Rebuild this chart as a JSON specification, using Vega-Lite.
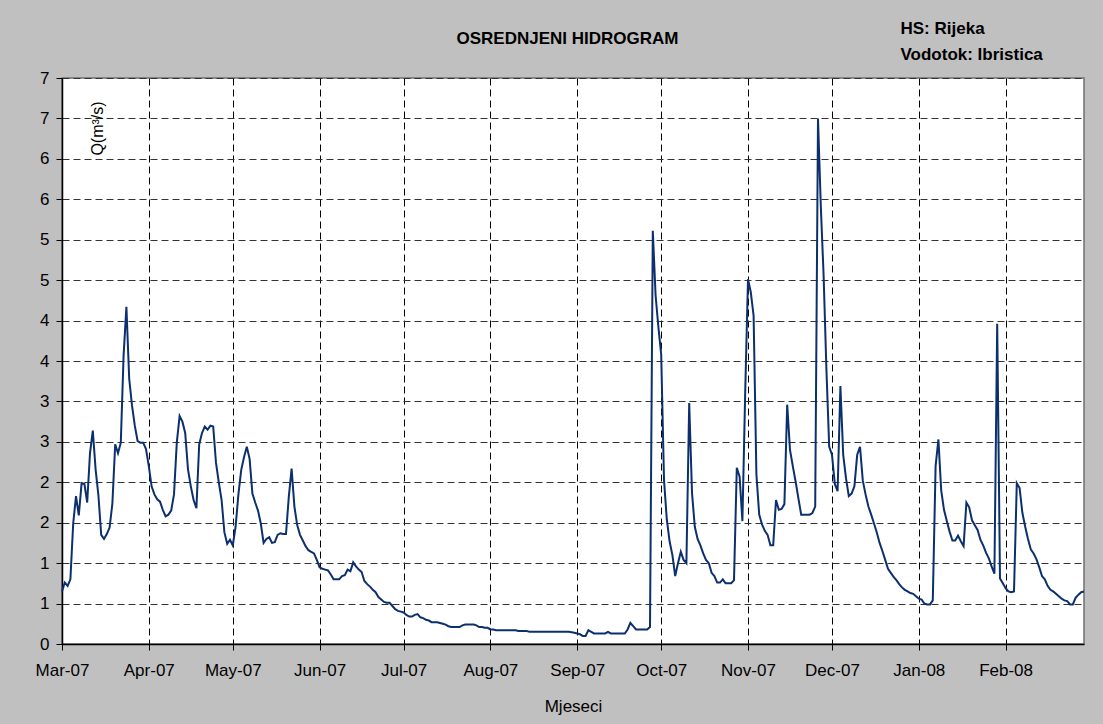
{
"$schema": "https://vega.github.io/schema/vega-lite/v6.json",
"width": 1022, "height": 566,
"autosize": {"type": "none"},
"padding": {"left": 62, "top": 78, "right": 19, "bottom": 80},
"background": "#c0c0c0",
"config": {"view": {"fill": "white", "stroke": "#707070", "strokeWidth": 1.5}, "font": "Liberation Sans"},
"data": {"values": [
{"date":"2007-03-01","q":0.65},{"date":"2007-03-02","q":0.76},{"date":"2007-03-03","q":0.72},{"date":"2007-03-04","q":0.80},{"date":"2007-03-05","q":1.49},{"date":"2007-03-06","q":1.83},{"date":"2007-03-07","q":1.59},{"date":"2007-03-08","q":1.99},{"date":"2007-03-09","q":1.98},{"date":"2007-03-10","q":1.75},{"date":"2007-03-11","q":2.36},{"date":"2007-03-12","q":2.64},{"date":"2007-03-13","q":2.16},{"date":"2007-03-14","q":1.84},{"date":"2007-03-15","q":1.35},{"date":"2007-03-16","q":1.30},{"date":"2007-03-17","q":1.36},{"date":"2007-03-18","q":1.44},{"date":"2007-03-19","q":1.74},{"date":"2007-03-20","q":2.47},{"date":"2007-03-21","q":2.36},{"date":"2007-03-22","q":2.49},{"date":"2007-03-23","q":3.57},{"date":"2007-03-24","q":4.17},{"date":"2007-03-25","q":3.28},{"date":"2007-03-26","q":2.95},{"date":"2007-03-27","q":2.70},{"date":"2007-03-28","q":2.51},{"date":"2007-03-29","q":2.49},{"date":"2007-03-30","q":2.49},{"date":"2007-03-31","q":2.41},
{"date":"2007-04-01","q":2.20},{"date":"2007-04-02","q":1.95},{"date":"2007-04-03","q":1.85},{"date":"2007-04-04","q":1.79},{"date":"2007-04-05","q":1.76},{"date":"2007-04-06","q":1.66},{"date":"2007-04-07","q":1.58},{"date":"2007-04-08","q":1.60},{"date":"2007-04-09","q":1.65},{"date":"2007-04-10","q":1.85},{"date":"2007-04-11","q":2.49},{"date":"2007-04-12","q":2.82},{"date":"2007-04-13","q":2.75},{"date":"2007-04-14","q":2.61},{"date":"2007-04-15","q":2.16},{"date":"2007-04-16","q":1.95},{"date":"2007-04-17","q":1.78},{"date":"2007-04-18","q":1.68},{"date":"2007-04-19","q":2.47},{"date":"2007-04-20","q":2.61},{"date":"2007-04-21","q":2.69},{"date":"2007-04-22","q":2.65},{"date":"2007-04-23","q":2.70},{"date":"2007-04-24","q":2.69},{"date":"2007-04-25","q":2.24},{"date":"2007-04-26","q":2.00},{"date":"2007-04-27","q":1.78},{"date":"2007-04-28","q":1.38},{"date":"2007-04-29","q":1.24},{"date":"2007-04-30","q":1.29},
{"date":"2007-05-01","q":1.22},{"date":"2007-05-02","q":1.45},{"date":"2007-05-03","q":1.85},{"date":"2007-05-04","q":2.15},{"date":"2007-05-05","q":2.31},{"date":"2007-05-06","q":2.44},{"date":"2007-05-07","q":2.29},{"date":"2007-05-08","q":1.86},{"date":"2007-05-09","q":1.75},{"date":"2007-05-10","q":1.65},{"date":"2007-05-11","q":1.49},{"date":"2007-05-12","q":1.25},{"date":"2007-05-13","q":1.30},{"date":"2007-05-14","q":1.32},{"date":"2007-05-15","q":1.25},{"date":"2007-05-16","q":1.26},{"date":"2007-05-17","q":1.35},{"date":"2007-05-18","q":1.37},{"date":"2007-05-19","q":1.36},{"date":"2007-05-20","q":1.36},{"date":"2007-05-21","q":1.82},{"date":"2007-05-22","q":2.17},{"date":"2007-05-23","q":1.70},{"date":"2007-05-24","q":1.47},{"date":"2007-05-25","q":1.35},{"date":"2007-05-26","q":1.28},{"date":"2007-05-27","q":1.21},{"date":"2007-05-28","q":1.16},{"date":"2007-05-29","q":1.14},{"date":"2007-05-30","q":1.12},{"date":"2007-05-31","q":1.04},
{"date":"2007-06-01","q":0.95},{"date":"2007-06-02","q":0.93},{"date":"2007-06-03","q":0.92},{"date":"2007-06-04","q":0.91},{"date":"2007-06-05","q":0.86},{"date":"2007-06-06","q":0.80},{"date":"2007-06-07","q":0.80},{"date":"2007-06-08","q":0.80},{"date":"2007-06-09","q":0.84},{"date":"2007-06-10","q":0.85},{"date":"2007-06-11","q":0.92},{"date":"2007-06-12","q":0.90},{"date":"2007-06-13","q":1.01},{"date":"2007-06-14","q":0.96},{"date":"2007-06-15","q":0.92},{"date":"2007-06-16","q":0.89},{"date":"2007-06-17","q":0.78},{"date":"2007-06-18","q":0.74},{"date":"2007-06-19","q":0.71},{"date":"2007-06-20","q":0.67},{"date":"2007-06-21","q":0.64},{"date":"2007-06-22","q":0.58},{"date":"2007-06-23","q":0.55},{"date":"2007-06-24","q":0.52},{"date":"2007-06-25","q":0.51},{"date":"2007-06-26","q":0.51},{"date":"2007-06-27","q":0.47},{"date":"2007-06-28","q":0.43},{"date":"2007-06-29","q":0.41},{"date":"2007-06-30","q":0.40},
{"date":"2007-07-01","q":0.39},{"date":"2007-07-02","q":0.36},{"date":"2007-07-03","q":0.34},{"date":"2007-07-04","q":0.34},{"date":"2007-07-05","q":0.36},{"date":"2007-07-06","q":0.37},{"date":"2007-07-07","q":0.33},{"date":"2007-07-08","q":0.32},{"date":"2007-07-09","q":0.30},{"date":"2007-07-10","q":0.29},{"date":"2007-07-11","q":0.27},{"date":"2007-07-12","q":0.27},{"date":"2007-07-13","q":0.27},{"date":"2007-07-14","q":0.26},{"date":"2007-07-15","q":0.25},{"date":"2007-07-16","q":0.24},{"date":"2007-07-17","q":0.22},{"date":"2007-07-18","q":0.21},{"date":"2007-07-19","q":0.21},{"date":"2007-07-20","q":0.21},{"date":"2007-07-21","q":0.21},{"date":"2007-07-22","q":0.23},{"date":"2007-07-23","q":0.24},{"date":"2007-07-24","q":0.24},{"date":"2007-07-25","q":0.24},{"date":"2007-07-26","q":0.24},{"date":"2007-07-27","q":0.23},{"date":"2007-07-28","q":0.21},{"date":"2007-07-29","q":0.21},{"date":"2007-07-30","q":0.20},{"date":"2007-07-31","q":0.20},
{"date":"2007-08-01","q":0.18},{"date":"2007-08-02","q":0.18},{"date":"2007-08-03","q":0.17},{"date":"2007-08-06","q":0.17},{"date":"2007-08-10","q":0.17},{"date":"2007-08-11","q":0.16},{"date":"2007-08-14","q":0.16},{"date":"2007-08-15","q":0.15},{"date":"2007-08-20","q":0.15},{"date":"2007-08-25","q":0.15},{"date":"2007-08-29","q":0.15},{"date":"2007-08-31","q":0.14},
{"date":"2007-09-01","q":0.13},{"date":"2007-09-02","q":0.12},{"date":"2007-09-03","q":0.10},{"date":"2007-09-04","q":0.10},{"date":"2007-09-05","q":0.17},{"date":"2007-09-06","q":0.15},{"date":"2007-09-07","q":0.13},{"date":"2007-09-11","q":0.13},{"date":"2007-09-12","q":0.15},{"date":"2007-09-13","q":0.13},{"date":"2007-09-18","q":0.13},{"date":"2007-09-19","q":0.18},{"date":"2007-09-20","q":0.26},{"date":"2007-09-21","q":0.22},{"date":"2007-09-22","q":0.18},{"date":"2007-09-26","q":0.18},{"date":"2007-09-27","q":0.21},{"date":"2007-09-28","q":5.11},{"date":"2007-09-29","q":4.31},{"date":"2007-09-30","q":3.92},
{"date":"2007-10-01","q":3.58},{"date":"2007-10-02","q":2.03},{"date":"2007-10-03","q":1.54},{"date":"2007-10-04","q":1.27},{"date":"2007-10-05","q":1.10},{"date":"2007-10-06","q":0.84},{"date":"2007-10-07","q":1.00},{"date":"2007-10-08","q":1.14},{"date":"2007-10-09","q":1.04},{"date":"2007-10-10","q":1.00},{"date":"2007-10-11","q":2.98},{"date":"2007-10-12","q":1.87},{"date":"2007-10-13","q":1.45},{"date":"2007-10-14","q":1.30},{"date":"2007-10-15","q":1.22},{"date":"2007-10-16","q":1.12},{"date":"2007-10-17","q":1.04},{"date":"2007-10-18","q":1.00},{"date":"2007-10-19","q":0.88},{"date":"2007-10-20","q":0.84},{"date":"2007-10-21","q":0.76},{"date":"2007-10-22","q":0.76},{"date":"2007-10-23","q":0.80},{"date":"2007-10-24","q":0.75},{"date":"2007-10-25","q":0.75},{"date":"2007-10-26","q":0.75},{"date":"2007-10-27","q":0.79},{"date":"2007-10-28","q":2.18},{"date":"2007-10-29","q":2.07},{"date":"2007-10-30","q":1.52},{"date":"2007-10-31","q":3.11},
{"date":"2007-11-01","q":4.51},{"date":"2007-11-02","q":4.35},{"date":"2007-11-03","q":4.06},{"date":"2007-11-04","q":2.10},{"date":"2007-11-05","q":1.60},{"date":"2007-11-06","q":1.48},{"date":"2007-11-07","q":1.40},{"date":"2007-11-08","q":1.35},{"date":"2007-11-09","q":1.22},{"date":"2007-11-10","q":1.22},{"date":"2007-11-11","q":1.78},{"date":"2007-11-12","q":1.66},{"date":"2007-11-13","q":1.67},{"date":"2007-11-14","q":1.73},{"date":"2007-11-15","q":2.96},{"date":"2007-11-16","q":2.40},{"date":"2007-11-17","q":2.20},{"date":"2007-11-18","q":2.01},{"date":"2007-11-19","q":1.80},{"date":"2007-11-20","q":1.60},{"date":"2007-11-23","q":1.60},{"date":"2007-11-24","q":1.62},{"date":"2007-11-25","q":1.70},{"date":"2007-11-26","q":6.50},{"date":"2007-11-27","q":5.42},{"date":"2007-11-28","q":4.56},{"date":"2007-11-29","q":3.40},{"date":"2007-11-30","q":2.44},
{"date":"2007-12-01","q":2.34},{"date":"2007-12-02","q":1.98},{"date":"2007-12-03","q":1.89},{"date":"2007-12-04","q":3.19},{"date":"2007-12-05","q":2.34},{"date":"2007-12-06","q":2.05},{"date":"2007-12-07","q":1.83},{"date":"2007-12-08","q":1.86},{"date":"2007-12-09","q":1.95},{"date":"2007-12-10","q":2.34},{"date":"2007-12-11","q":2.44},{"date":"2007-12-12","q":2.02},{"date":"2007-12-13","q":1.85},{"date":"2007-12-14","q":1.70},{"date":"2007-12-15","q":1.60},{"date":"2007-12-16","q":1.49},{"date":"2007-12-17","q":1.38},{"date":"2007-12-18","q":1.25},{"date":"2007-12-19","q":1.15},{"date":"2007-12-20","q":1.04},{"date":"2007-12-21","q":0.93},{"date":"2007-12-22","q":0.88},{"date":"2007-12-23","q":0.83},{"date":"2007-12-24","q":0.79},{"date":"2007-12-25","q":0.74},{"date":"2007-12-26","q":0.70},{"date":"2007-12-27","q":0.67},{"date":"2007-12-28","q":0.65},{"date":"2007-12-29","q":0.63},{"date":"2007-12-30","q":0.62},{"date":"2007-12-31","q":0.59},
{"date":"2008-01-01","q":0.56},{"date":"2008-01-02","q":0.55},{"date":"2008-01-03","q":0.50},{"date":"2008-01-04","q":0.49},{"date":"2008-01-05","q":0.49},{"date":"2008-01-06","q":0.54},{"date":"2008-01-07","q":2.20},{"date":"2008-01-08","q":2.53},{"date":"2008-01-09","q":1.90},{"date":"2008-01-10","q":1.66},{"date":"2008-01-11","q":1.52},{"date":"2008-01-12","q":1.39},{"date":"2008-01-13","q":1.28},{"date":"2008-01-14","q":1.28},{"date":"2008-01-15","q":1.34},{"date":"2008-01-16","q":1.27},{"date":"2008-01-17","q":1.21},{"date":"2008-01-18","q":1.75},{"date":"2008-01-19","q":1.69},{"date":"2008-01-20","q":1.53},{"date":"2008-01-21","q":1.47},{"date":"2008-01-22","q":1.41},{"date":"2008-01-23","q":1.29},{"date":"2008-01-24","q":1.22},{"date":"2008-01-25","q":1.13},{"date":"2008-01-26","q":1.06},{"date":"2008-01-27","q":0.96},{"date":"2008-01-28","q":0.87},{"date":"2008-01-29","q":3.96},{"date":"2008-01-30","q":0.81},{"date":"2008-01-31","q":0.75},
{"date":"2008-02-01","q":0.69},{"date":"2008-02-02","q":0.65},{"date":"2008-02-03","q":0.64},{"date":"2008-02-04","q":0.65},{"date":"2008-02-05","q":1.99},{"date":"2008-02-06","q":1.93},{"date":"2008-02-07","q":1.62},{"date":"2008-02-08","q":1.45},{"date":"2008-02-09","q":1.30},{"date":"2008-02-10","q":1.17},{"date":"2008-02-11","q":1.12},{"date":"2008-02-12","q":1.05},{"date":"2008-02-13","q":0.95},{"date":"2008-02-14","q":0.84},{"date":"2008-02-15","q":0.80},{"date":"2008-02-16","q":0.72},{"date":"2008-02-17","q":0.67},{"date":"2008-02-18","q":0.65},{"date":"2008-02-19","q":0.62},{"date":"2008-02-20","q":0.59},{"date":"2008-02-21","q":0.56},{"date":"2008-02-22","q":0.54},{"date":"2008-02-23","q":0.53},{"date":"2008-02-24","q":0.49},{"date":"2008-02-25","q":0.49},{"date":"2008-02-26","q":0.57},{"date":"2008-02-27","q":0.61},{"date":"2008-02-28","q":0.64},{"date":"2008-02-29","q":0.65}
]},
"layer": [
{
"mark": {"type": "line", "color": "#0c2f6e", "strokeWidth": 2},
"encoding": {
"x": {"field": "date", "type": "temporal", "timeUnit": "utcyearmonthdate",
"scale": {"domain": [{"year": 2007, "month": 3, "date": 1, "utc": true}, {"year": 2008, "month": 2, "date": 29, "utc": true}]},
"axis": {"format": "%b-%y", "tickCount": {"interval": "month", "step": 1}, "labelFlush": false, "labelOverlap": false,
"grid": true, "gridColor": "#000", "gridDash": [7, 4], "gridWidth": 1,
"domainColor": "#000", "domainWidth": 1.5, "tickColor": "#000", "tickSize": 6, "tickWidth": 1,
"labelFontSize": 17, "labelColor": "#000", "labelPadding": 12, "labelFont": "Liberation Sans",
"title": "Mjeseci", "titleFontSize": 17, "titleFontWeight": "normal", "titleColor": "#000", "titleFont": "Liberation Sans",
"titleY": 67, "titleBaseline": "alphabetic"}},
"y": {"field": "q", "type": "quantitative", "scale": {"domain": [0, 7], "nice": false, "zero": true},
"axis": {"values": [0, 0.5, 1, 1.5, 2, 2.5, 3, 3.5, 4, 4.5, 5, 5.5, 6, 6.5, 7], "format": ".0f",
"grid": true, "gridColor": "#333", "gridDash": [7, 4], "gridWidth": 1,
"domainColor": "#000", "domainWidth": 1.5, "tickColor": "#000", "tickSize": 6, "tickWidth": 1,
"labelFontSize": 17, "labelColor": "#000", "labelPadding": 7, "labelFont": "Liberation Sans",
"title": "Q(m³/s)", "titleFontSize": 16, "titleFontWeight": "normal", "titleColor": "#000", "titleFont": "Liberation Sans",
"titleAngle": -90, "titleX": 40, "titleY": 50, "titleAlign": "center", "titleBaseline": "alphabetic"}}
}
},
{
"mark": {"type": "line", "strokeOpacity": 0},
"encoding": {
"x": {"field": "date", "type": "temporal", "timeUnit": "utcyearmonthdate",
"axis": {"orient": "top", "labels": false, "ticks": false, "domain": false, "grid": false,
"title": "OSREDNJENI HIDROGRAM", "titleFontSize": 17, "titleFontWeight": "bold", "titleColor": "#000", "titleFont": "Liberation Sans",
"titleX": 505, "titleY": -35, "titleAlign": "center", "titleBaseline": "alphabetic"}},
"y": {"field": "q", "type": "quantitative",
"axis": {"orient": "right", "labels": false, "ticks": false, "domain": false, "grid": false,
"title": ["HS: Rijeka", "Vodotok: Ibristica"], "titleFontSize": 17, "titleFontWeight": "bold", "titleColor": "#000", "titleFont": "Liberation Sans",
"titleAngle": 0, "titleX": -184, "titleY": -45, "titleAlign": "left", "titleBaseline": "alphabetic", "titleLineHeight": 26}}
}
}
],
"resolve": {"axis": {"x": "independent", "y": "independent"}}
}
